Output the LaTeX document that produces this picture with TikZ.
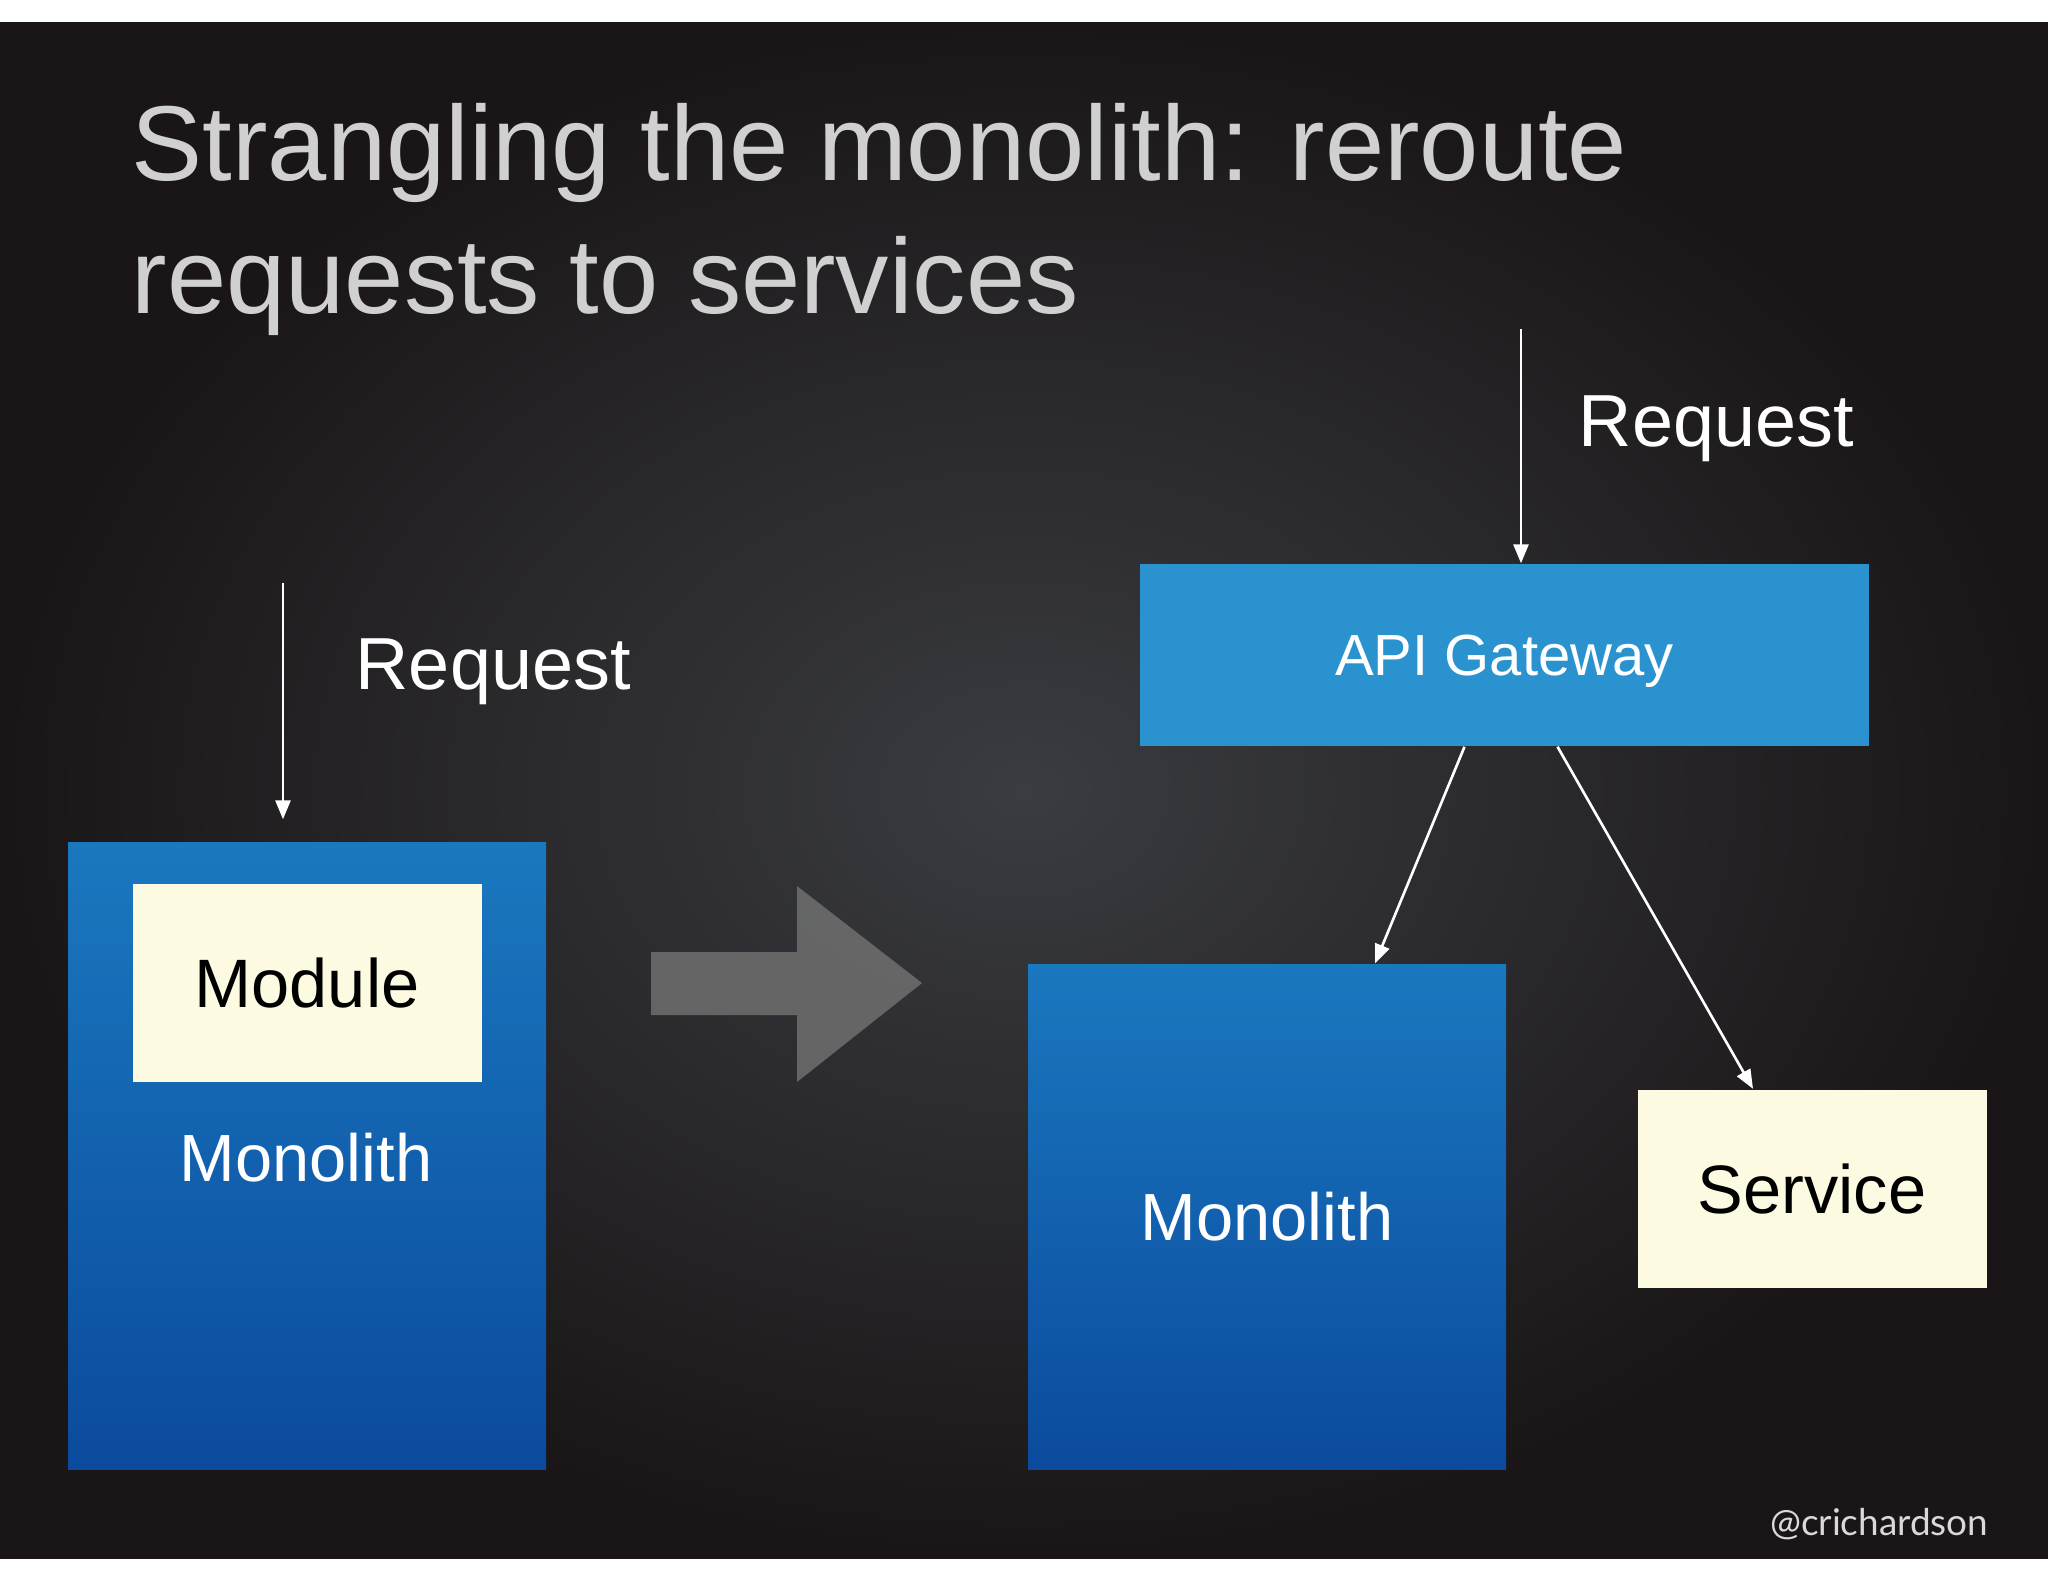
\documentclass[tikz,border=0pt]{standalone}
\usepackage{fontspec}
\setmainfont{Liberation Sans}
\newfontfamily\handlefont{Lato}
\usetikzlibrary{positioning}
\usetikzlibrary{arrows.meta}
\definecolor{slatemid}{HTML}{3A3C41}
\definecolor{slateedge}{HTML}{1A1617}
\definecolor{monotop}{HTML}{1A78BF}
\definecolor{monobot}{HTML}{0B4A9D}
\definecolor{gwblue}{HTML}{2A93CF}
\definecolor{cream}{HTML}{FCFBE2}
\definecolor{titlegray}{HTML}{D0D0D0}
\begin{document}
\begin{tikzpicture}[x=0.1mm,y=-0.1mm,
	monobox/.style={rectangle,inner sep=0pt,minimum width=47.8mm,
	                top color=monotop,bottom color=monobot},
	paperbox/.style={rectangle,inner sep=0pt,fill=cream,text=black,
	                 minimum width=34.9mm,minimum height=19.8mm,
	                 font=\fontsize{19.5}{23}\selectfont},
	gwbox/.style={rectangle,inner sep=0pt,fill=gwblue,text=white,text depth=0pt,
	              minimum width=72.9mm,minimum height=18.2mm,
	              font=\fontsize{16.5}{20}\selectfont},
	boxtext/.style={text=white,inner sep=0pt,font=\fontsize{19}{23}\selectfont},
	reqtext/.style={text=white,inner sep=0pt,font=\fontsize{21}{25}\selectfont},
	wire/.style={draw=white,line width=0.75pt,-{Triangle[length=1.9mm,width=1.5mm]}}]

	\useasboundingbox (0,0) rectangle (2048,1582);
	%page and slide background
	\fill[white] (0,0) rectangle (2048,1582);
	\shade[inner color=slatemid,outer color=slateedge] (0,22) rectangle (2048,1558);

	%title (base anchor sits on the last line)
	\node[text=titlegray,inner sep=0pt,anchor=base west,align=left,
	      font=\fontsize{30.3}{37.8}\selectfont] (title) at (131,313)
	      {Strangling the monolith: reroute\\requests to services};

	%before: module inside the monolith
	\node[monobox,minimum height=62.7mm] (mono1) at (307,1155.5) {};
	\node[paperbox,below=4.2mm of mono1.north] (module) {Module};
	\node[boxtext] (mono1txt) at (306,1158) {Monolith};
	\coordinate (reqA) at (283,583);
	\node[reqtext,anchor=base west] (reqAtxt) at (355,689) {Request};
	\draw[wire,shorten >=2.2mm] (reqA) to[] (reqA |- mono1.north);

	%big grey arrow
	\fill[white!45!black,opacity=.8] (651,952) -- (797,952) -- (797,886) -- (922,983)
	    -- (797,1082) -- (797,1015) -- (651,1015) -- cycle;

	%after: gateway in front of monolith and service
	\node[gwbox] (gw) at (1504.5,655) {API Gateway};
	\node[monobox,minimum height=50.5mm,text=white,
	      font=\fontsize{19}{23}\selectfont] (mono2) at (1267,1216.5) {Monolith};
	\node[paperbox] (svc) at (1812,1188.5) {Service};
	\coordinate (reqB) at (1521,329);
	\node[reqtext,anchor=base west] (reqBtxt) at (1578,446) {Request};
	\draw[wire] (reqB) to[] (reqB |- gw.north);
	\draw[wire] ([xshift=-4mm]gw.south) to[] ([xshift=10.8mm]mono2.north);
	\draw[wire] ([xshift=5.3mm]gw.south) to[] ([xshift=-5.9mm]svc.north);

	%handle
	\node[text=white!85!black,inner sep=0pt,anchor=base east,
	      font=\handlefont\fontsize{10.5}{12}\selectfont] (handle) at (1989,1535) {@crichardson};

\end{tikzpicture}
\end{document}
